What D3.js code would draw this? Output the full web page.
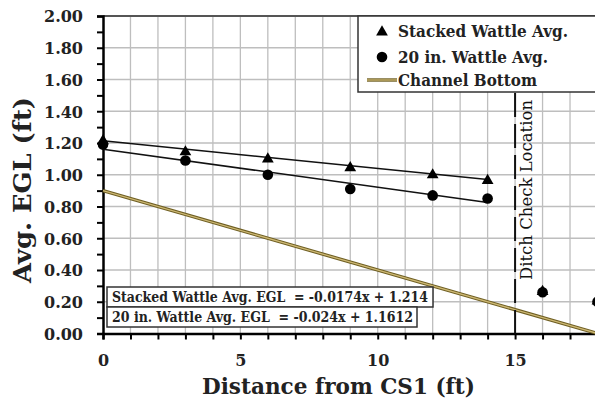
<!DOCTYPE html>
<html><head><meta charset="utf-8">
<script src="https://cdn.jsdelivr.net/npm/d3@7"></script>
<style>body{margin:0;background:#fff}svg{display:block}</style>
</head><body><svg id="c" width="595" height="400"></svg>
<script>
const stackedX = [0, 3, 6, 9, 12, 14, 16, 18];
const stackedY = [1.22, 1.15, 1.105, 1.05, 1.005, 0.97, 0.27, 0.21];
const wattleX = [0, 3, 6, 9, 12, 14, 16, 18];
const wattleY = [1.19, 1.09, 1.00, 0.91, 0.87, 0.85, 0.26, 0.20];
const stackedFit = {slope: -0.0174, intercept: 1.214, x0: 0, x1: 14};
const wattleFit = {slope: -0.024, intercept: 1.1612, x0: 0, x1: 14};
const channelX = [0, 18];
const channelY = [0.9, 0];
const ditchX = 15;
const xTicks = [0, 5, 10, 15];
const yTicks = [0, 0.2, 0.4, 0.6, 0.8, 1.0, 1.2, 1.4, 1.6, 1.8, 2.0];
const legendLabels = ["Stacked Wattle Avg.", "20 in. Wattle Avg.", "Channel Bottom"];
const eqLabels = ["Stacked Wattle Avg. EGL  = -0.0174x + 1.214", "20 in. Wattle Avg. EGL  = -0.024x + 1.1612"];

const svg = d3.select("#c");
const L = 103, T = 16, R = 597.5, B = 333.5;
const x = d3.scaleLinear().domain([0, 18]).range([L, R]);
const y = d3.scaleLinear().domain([0, 2]).range([B, T]);
const serif = "'DejaVu Serif', serif";

// grid
const g = svg.append("g");
g.selectAll(".vg").data(d3.range(1, 19)).join("line")
  .attr("x1", d => x(d)).attr("x2", d => x(d)).attr("y1", T).attr("y2", B)
  .attr("stroke", "#bebebe").attr("stroke-width", 1.3);
g.selectAll(".hg").data(yTicks.slice(1)).join("line")
  .attr("x1", L).attr("x2", R).attr("y1", d => y(d)).attr("y2", d => y(d))
  .attr("stroke", "#bebebe").attr("stroke-width", 1.3);
svg.append("line").attr("x1", L).attr("x2", R).attr("y1", T).attr("y2", T)
  .attr("stroke", "#555").attr("stroke-width", 2);

// axes
const yAxis = d3.axisLeft(y).tickValues(d3.range(0, 2.001, 0.1)).tickSize(6)
  .tickFormat(d => (Math.abs(d * 5 - Math.round(d * 5)) < 1e-6) ? d3.format(".2f")(d) : "");
const ya = svg.append("g").attr("transform", `translate(${L},0)`).call(yAxis);
ya.select(".domain").attr("stroke", "#000").attr("stroke-width", 2.5);
ya.selectAll(".tick line").attr("stroke", "#000").attr("stroke-width", 2);
ya.selectAll(".tick text").attr("font-family", serif).attr("font-weight", "bold")
  .attr("font-size", 16).attr("fill", "#222").attr("x", -20).attr("dy", "0.36em");

const xAxis = d3.axisBottom(x).tickValues(d3.range(0, 19)).tickSize(6)
  .tickFormat(d => xTicks.includes(d) ? d : "");
const xa = svg.append("g").attr("transform", `translate(0,${B})`).call(xAxis);
xa.select(".domain").attr("stroke", "#000").attr("stroke-width", 2.5);
xa.selectAll(".tick line").attr("stroke", "#000").attr("stroke-width", 2);
xa.selectAll(".tick text").attr("font-family", serif).attr("font-weight", "bold")
  .attr("font-size", 16).attr("fill", "#222").attr("y", 21);

// channel bottom
const chLine = d3.line().x((d, i) => x(channelX[i])).y((d, i) => y(channelY[i]));
svg.append("path").datum(channelX).attr("d", chLine).attr("fill", "none")
  .attr("stroke", "#6e5e22").attr("stroke-width", 3.4);
svg.append("path").datum(channelX).attr("d", chLine).attr("fill", "none")
  .attr("stroke", "#cdb874").attr("stroke-width", 1.3);

// fits
[stackedFit, wattleFit].forEach(f => {
  svg.append("line").attr("x1", x(f.x0)).attr("x2", x(f.x1))
    .attr("y1", y(f.intercept + f.slope * f.x0)).attr("y2", y(f.intercept + f.slope * f.x1))
    .attr("stroke", "#111").attr("stroke-width", 1.5);
});

// ditch check
svg.append("line").attr("x1", x(ditchX)).attr("x2", x(ditchX)).attr("y1", 93).attr("y2", B)
  .attr("stroke", "#111").attr("stroke-width", 2).attr("stroke-dasharray", "24,7");
svg.append("text").attr("transform", `translate(${x(ditchX) + 17},190) rotate(-90)`)
  .attr("text-anchor", "middle").attr("font-family", serif).attr("font-size", 16)
  .attr("textLength", 180).attr("lengthAdjust", "spacingAndGlyphs")
  .attr("fill", "#111").text("Ditch Check Location");

// markers
const tri = d3.symbol().type(d3.symbolTriangle).size(60);
svg.selectAll(".c").data(wattleX).join("circle")
  .attr("cx", d => x(d)).attr("cy", (d, i) => y(wattleY[i])).attr("r", 5.3).attr("fill", "#000");
svg.selectAll(".t").data(stackedX).join("path").attr("d", tri)
  .attr("transform", (d, i) => `translate(${x(d)},${y(stackedY[i]) + 1})`).attr("fill", "#000");

// equation boxes
const eqBoxes = [{x: 107, y: 287, w: 326, h: 20, tl: 316}, {x: 107, y: 307, w: 310, h: 20, tl: 301}];
eqLabels.forEach((t, i) => {
  const b = eqBoxes[i];
  svg.append("rect").attr("x", b.x).attr("y", b.y).attr("width", b.w).attr("height", b.h)
    .attr("fill", "#fff").attr("stroke", "#333").attr("stroke-width", 1.5);
  svg.append("text").attr("x", b.x + 5).attr("y", b.y + 15).attr("font-family", serif)
    .style("white-space", "pre")
    .attr("font-size", 14).attr("font-weight", 600).attr("textLength", b.tl)
    .attr("lengthAdjust", "spacingAndGlyphs").attr("fill", "#222").text(t);
});

// legend
svg.append("rect").attr("x", 358).attr("y", T).attr("width", 250).attr("height", 76)
  .attr("fill", "#fff").attr("stroke", "#333").attr("stroke-width", 1.5);
const ly = [31, 57, 80];
const lw = [170, 150, 139];
svg.append("path").attr("d", tri).attr("transform", `translate(382,${ly[0] + 1})`).attr("fill", "#000");
svg.append("circle").attr("cx", 382).attr("cy", ly[1]).attr("r", 5.3).attr("fill", "#000");
svg.append("line").attr("x1", 367).attr("x2", 397).attr("y1", ly[2]).attr("y2", ly[2])
  .attr("stroke", "#6e5e22").attr("stroke-width", 3.4);
svg.append("line").attr("x1", 367).attr("x2", 397).attr("y1", ly[2]).attr("y2", ly[2])
  .attr("stroke", "#cdb874").attr("stroke-width", 1.3);
legendLabels.forEach((t, i) => {
  svg.append("text").attr("x", 398).attr("y", ly[i] + 6).attr("font-family", serif)
    .attr("font-weight", "bold").attr("font-size", 16).attr("textLength", lw[i])
    .attr("lengthAdjust", "spacingAndGlyphs").attr("fill", "#222").text(t);
});

// axis titles
svg.append("text").attr("x", 202).attr("y", 394)
  .attr("font-family", serif).attr("font-weight", "bold").attr("font-size", 23)
  .attr("textLength", 273).attr("lengthAdjust", "spacingAndGlyphs")
  .attr("fill", "#222").text("Distance from CS1 (ft)");
svg.append("text").attr("transform", "translate(31,283) rotate(-90)")
  .attr("font-family", serif).attr("font-weight", "bold").attr("font-size", 24)
  .attr("textLength", 186).attr("lengthAdjust", "spacingAndGlyphs")
  .attr("fill", "#222").text("Avg. EGL (ft)");
</script></body></html>
